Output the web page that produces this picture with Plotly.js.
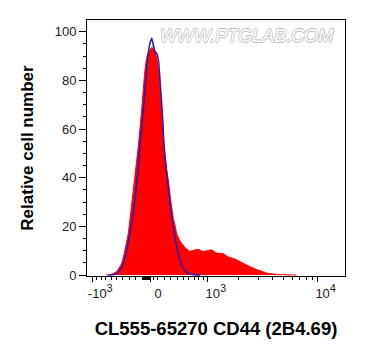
<!DOCTYPE html>
<html><head><meta charset="utf-8">
<script src="https://cdn.plot.ly/plotly-3.0.1.min.js"></script>
<style>html,body{margin:0;padding:0;background:#fff}#chart{width:365px;height:360px}</style>
</head><body><div id="chart"></div>
<script>
// biexponential-like display (arcsinh) cofactor
const COFACTOR = 700;

// CD44 stained sample (red filled histogram)
const redX = [-700, -620, -584, -501, -418, -365, -314, -277, -238, -199, -165, -117, -70, -38, 0, 24, 46, 70, 94, 117, 151, 180, 199, 238, 262, 298, 338, 365, 392, 446, 474, 531, 590, 622, 700, 784, 899, 1000, 1099, 1232, 1427, 1603, 1797, 1940, 2372, 2922, 3120, 3578, 4089, 4686, 5500, 6500];
const redY = [0, 0.1, 0.4, 1.5, 4.8, 10.3, 17.1, 25.4, 34.9, 44.5, 53, 67.8, 84.3, 90.4, 92.5, 93.5, 93, 92, 89, 84.3, 73.3, 62.3, 52.5, 43.5, 39, 31, 23.5, 20.5, 17, 14, 13, 11.3, 10.2, 9.8, 10.2, 10.5, 9.7, 10.1, 10.3, 9, 8.8, 7.4, 6.8, 6.1, 4.1, 2.2, 1.8, 0.8, 0.4, 0.2, 0.05, 0];

// isotype control (blue line)
const blueX = [-650, -584, -501, -474, -392, -338, -288, -238, -199, -165, -141, -94, -46, -24, 0, 24, 46, 70, 94, 117, 151, 180, 199, 238, 277, 313, 349, 392, 446, 502, 590, 700, 823];
const blueY = [0, 0.1, 0.5, 1, 4.8, 10.3, 17.1, 25.4, 34.9, 44.5, 54, 67.8, 84.3, 91.1, 95.2, 97.3, 94.5, 91.8, 91.1, 88.4, 76, 63.7, 53.5, 41.8, 32.2, 24, 17.5, 11.5, 6.2, 2.7, 0.7, 0.1, 0];

// axis ticks (in fluorescence units)
const xTickValues = [-1000, 0, 1000, 10000];
const xTickLabels = ['-10<sup><span style="font-size:11px">3</span></sup>', '0', '10<sup><span style="font-size:11px">3</span></sup>', '10<sup><span style="font-size:11px">4</span></sup>'];
const xMinorValues = [-900, -800, -700, -600, -500, -400, -300, -200,
  -100, -90, -80, -70, -60, -50, -40, -30, -20, -10,
  50, 100, 200, 300, 400, 500, 600, 700, 800, 900,
  2000, 3000, 4000, 5000, 6000, 7000, 8000, 9000];
const xTitle = 'CL555-65270 CD44 (2B4.69)';
const yTitle = 'Relative cell number';
const watermark = 'WWW.PTGLAB.COM';

const tf = v => Math.asinh(v / COFACTOR);

const FONT = 'Liberation Sans, Arial, Helvetica, sans-serif';

const traces = [
  {
    x: redX.map(tf), y: redY, type: 'scatter', mode: 'lines',
    fill: 'tozeroy', fillcolor: '#ff0000',
    line: {color: '#ff0000', width: 1, shape: 'spline', smoothing: 0.6},
    hoverinfo: 'skip'
  },
  {
    x: blueX.map(tf), y: blueY, type: 'scatter', mode: 'lines',
    line: {color: '#2d1db0', width: 1.6, shape: 'spline', smoothing: 0.6},
    hoverinfo: 'skip'
  }
];

const layout = {
  width: 365, height: 360,
  margin: {l: 87, r: 20, t: 20, b: 84},
  paper_bgcolor: '#fff', plot_bgcolor: '#fff',
  showlegend: false,
  font: {family: FONT, color: '#000'},
  xaxis: {
    range: [-1.26, 3.9],
    showline: true, linecolor: '#000', linewidth: 1, mirror: true,
    showgrid: false, zeroline: false,
    ticks: 'outside', ticklen: 5, tickwidth: 1, tickcolor: '#000',
    tickmode: 'array',
    tickvals: xTickValues.map(tf), ticktext: xTickLabels,
    ticklabelshift: 8,
    tickfont: {family: FONT, size: 13, color: '#222'},
    minor: {tickmode: 'array', tickvals: xMinorValues.map(tf), ticks: 'outside', ticklen: 3, tickwidth: 1, tickcolor: '#000', showgrid: false},
    title: {text: xTitle, font: {family: FONT, size: 18.5, weight: 'bold', color: '#000'}, standoff: 22}
  },
  yaxis: {
    range: [-0.41, 104.8],
    showline: true, linecolor: '#000', linewidth: 1, mirror: true,
    showgrid: false, zeroline: false,
    ticks: 'outside', ticklen: 7, tickwidth: 1, tickcolor: '#000',
    tick0: 0, dtick: 20,
    tickfont: {family: FONT, size: 13, color: '#222'},
    minor: {dtick: 5, ticks: 'outside', ticklen: 3, tickwidth: 1, tickcolor: '#000', showgrid: false},
    title: {text: yTitle, font: {family: FONT, size: 17, weight: 'bold', color: '#000'}, standoff: 16}
  },
  annotations: [{
    text: watermark, xref: 'paper', yref: 'paper', x: 0.619, y: 0.936,
    xanchor: 'center', yanchor: 'middle', showarrow: false,
    font: {family: FONT, size: 18, style: 'italic', color: '#ffffff',
      shadow: '0.8px 0 0 #bdbdbd, -0.8px 0 0 #bdbdbd, 0 0.8px 0 #bdbdbd, 0 -0.8px 0 #bdbdbd'}
  }]
};

Plotly.newPlot('chart', traces, layout, {staticPlot: true, displayModeBar: false});
</script>
</body></html>
